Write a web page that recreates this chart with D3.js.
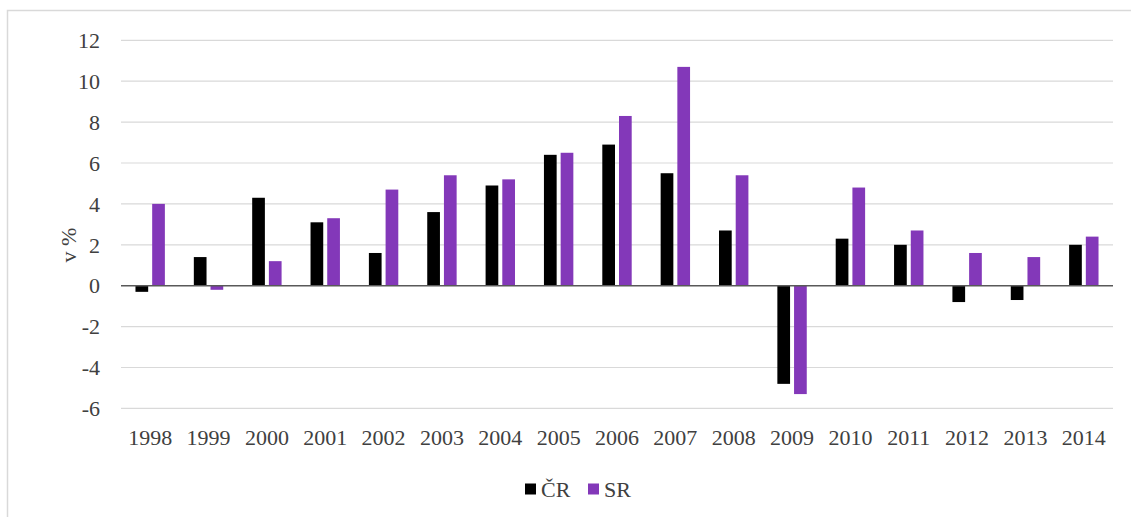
<!DOCTYPE html>
<html>
<head>
<meta charset="utf-8">
<script src="https://cdn.jsdelivr.net/npm/d3@7"></script>
<style>
  body { margin: 0; background: #fff; }
  svg { display: block; }
</style>
</head>
<body>
<svg id="chart" width="1131" height="517"></svg>
<script>
// data
const years = ['1998', '1999', '2000', '2001', '2002', '2003', '2004', '2005', '2006',
               '2007', '2008', '2009', '2010', '2011', '2012', '2013', '2014'];
const cr = [-0.3, 1.4, 4.3, 3.1, 1.6, 3.6, 4.9, 6.4, 6.9, 5.5, 2.7, -4.8, 2.3, 2.0, -0.8, -0.7, 2.0];
const sr = [4.0, -0.2, 1.2, 3.3, 4.7, 5.4, 5.2, 6.5, 8.3, 10.7, 5.4, -5.3, 4.8, 2.7, 1.6, 1.4, 2.4];
const seriesNames = ['ČR', 'SR'];
const seriesColors = ['#000000', '#8338b9'];
const yTicks = [-6, -4, -2, 0, 2, 4, 6, 8, 10, 12];

const FONT = "'Liberation Serif', 'Times New Roman', Times, 'DejaVu Serif', serif";
const TEXT = '#404040';

const svg = d3.select('#chart');
const W = 1131, H = 517;
const plot = { left: 121, right: 1113, top: 40.3, bottom: 408.4 };

// chart border
svg.append('rect')
    .attr('x', 7.5).attr('y', 10.5)
    .attr('width', W + 10).attr('height', H + 10)
    .attr('fill', 'none')
    .attr('stroke', '#d9d9d9')
    .attr('stroke-width', 1.5);

const x = d3.scaleBand()
    .domain(years)
    .range([plot.left, plot.right]);

const y = d3.scaleLinear()
    .domain([-6, 12])
    .range([plot.bottom, plot.top]);

// gridlines
svg.append('g')
    .selectAll('line')
    .data(yTicks.filter(d => d !== 0))
    .join('line')
    .attr('x1', plot.left).attr('x2', plot.right)
    .attr('y1', d => y(d)).attr('y2', d => y(d))
    .attr('stroke', '#d9d9d9')
    .attr('stroke-width', 1.2);

// y tick labels
svg.append('g')
    .selectAll('text')
    .data(yTicks)
    .join('text')
    .attr('x', 100)
    .attr('y', d => y(d))
    .attr('dy', '0.35em')
    .attr('text-anchor', 'end')
    .attr('font-family', FONT)
    .attr('font-size', 22)
    .attr('fill', TEXT)
    .text(d => d);

// axis title
svg.append('text')
    .attr('transform', 'translate(68,245) rotate(-90)')
    .attr('text-anchor', 'middle')
    .attr('dy', '0.35em')
    .attr('font-family', FONT)
    .attr('font-size', 22)
    .attr('fill', TEXT)
    .text('v %');

// bars
const barW = 12.7, gap = 4;
const series = [cr, sr];
series.forEach((vals, si) => {
    svg.append('g')
        .selectAll('rect')
        .data(vals)
        .join('rect')
        .attr('x', (d, i) => x(years[i]) + x.bandwidth() / 2 + (si === 0 ? -gap / 2 - barW : gap / 2))
        .attr('y', d => y(Math.max(0, d)))
        .attr('width', barW)
        .attr('height', d => Math.abs(y(d) - y(0)))
        .attr('fill', seriesColors[si]);
});

// zero line
svg.append('line')
    .attr('x1', plot.left).attr('x2', plot.right)
    .attr('y1', y(0)).attr('y2', y(0))
    .attr('stroke', '#595959')
    .attr('stroke-width', 1.5);

// year labels
svg.append('g')
    .selectAll('text')
    .data(years)
    .join('text')
    .attr('x', d => x(d) + x.bandwidth() / 2)
    .attr('y', 437)
    .attr('dy', '0.35em')
    .attr('text-anchor', 'middle')
    .attr('font-family', FONT)
    .attr('font-size', 22)
    .attr('fill', TEXT)
    .text(d => d);

// legend
const legend = svg.append('g').attr('transform', 'translate(525,489)');
const items = legend.selectAll('g')
    .data(seriesNames)
    .join('g')
    .attr('transform', (d, i) => `translate(${i * 63},0)`);
items.append('rect')
    .attr('x', 0).attr('y', -5.5)
    .attr('width', 11).attr('height', 11)
    .attr('fill', (d, i) => seriesColors[i]);
items.append('text')
    .attr('x', 16).attr('y', 0)
    .attr('dy', '0.35em')
    .attr('font-family', FONT)
    .attr('font-size', 22)
    .attr('fill', TEXT)
    .text(d => d);
</script>
</body>
</html>
